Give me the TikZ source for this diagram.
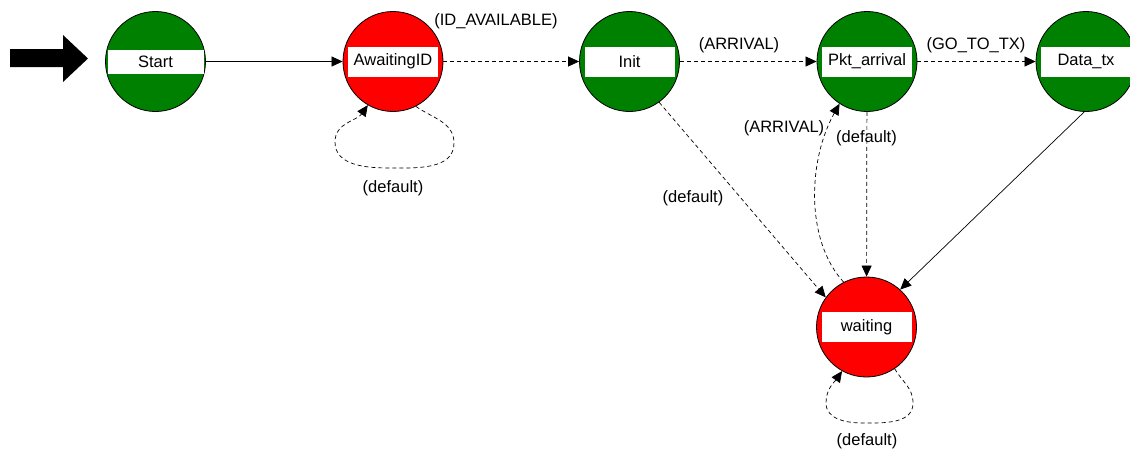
\documentclass[tikz,border=0pt]{standalone}
\usepackage{fontspec}
\setmainfont{Liberation Sans}
\usetikzlibrary{arrows.meta}
\definecolor{stategreen}{RGB}{0,128,0}
\definecolor{statered}{RGB}{255,0,0}

\begin{document}
\begin{tikzpicture}[x=1pt,y=1pt,
  font=\fontsize{16.5}{19}\selectfont,
  state/.style={circle, draw=black, line width=0.8pt, minimum size=100pt, inner sep=0pt},
  okstate/.style={state, fill=stategreen},
  holdstate/.style={state, fill=statered},
  band/.style={fill=white, inner sep=0pt, minimum width=90pt, minimum height=30pt},
  trans/.style={line width=0.7pt, -{Triangle[length=11pt,width=10pt]}},
  dtrans/.style={trans, dash pattern=on 4pt off 3pt},
  lbl/.style={inner sep=0pt}]
\useasboundingbox (0,0) rectangle (1130,-450);

% initial-state marker
\fill (10,-49) -- (63,-49) -- (63,-35) -- (88,-58.5) -- (63,-82) -- (63,-67) -- (10,-67) -- cycle;

% states
\node[okstate]   (S) at (155.5,-61.5) {};
\node[holdstate] (A) at (393,-61.5) {};
\node[okstate]   (I) at (629.5,-61.5) {};
\node[okstate]   (P) at (867,-61.5) {};
\node[okstate]   (D) at (1086,-61.5) {};
\node[holdstate] (W) at (866.5,-327) {};

% name bands
\node[band, minimum width=96pt, minimum height=24pt] (Sb) at (S) {Start};
\node[band] (Ab) at (A) {AwaitingID};
\node[band] (Ib) at (I) {Init};
\node[band] (Pb) at (P) {Pkt\_arrival};
\node[band] (Db) at (D) {Data\_tx};
\node[band] (Wb) at (W) {waiting};

% transitions
\draw[trans] (S) -- (A);
\draw[dtrans] (A) -- (I);
\draw[dtrans] (I) -- (P);
\draw[dtrans] (P) -- (D);
\draw[dtrans] (A.-63) to[out=-35,in=90] (454,-143) to[out=-90,in=0] (390,-168)
  to[out=180,in=-90] (335,-142) to[out=90,in=-125] (A.-120);
\draw[dtrans] (I.-54) -- (W.144);
\draw[dtrans] (W.117) .. controls (805,-240) and (808,-160) .. (P.-123);
\draw[dtrans] (P) -- (W);
\draw[trans] (D.-92) -- (W.48);
\draw[dtrans] (W.-56) to[out=-60,in=90] (913,-403) to[out=-90,in=0] (863,-423)
  to[out=180,in=-90] (826,-403) to[out=90,in=-125] (W.-119);

% transition labels
\node[lbl] (l1) at (496,-21) {(ID\_AVAILABLE)};
\node[lbl] (l2) at (739,-45) {(ARRIVAL)};
\node[lbl] (l3) at (976,-45) {(GO\_TO\_TX)};
\node[lbl] (l4) at (393,-188) {(default)};
\node[lbl] (l5) at (693,-198) {(default)};
\node[lbl] (l6) at (784,-128) {(ARRIVAL)};
\node[lbl] (l7) at (866.5,-138) {(default)};
\node[lbl] (l8) at (867,-441) {(default)};
\end{tikzpicture}
\end{document}
